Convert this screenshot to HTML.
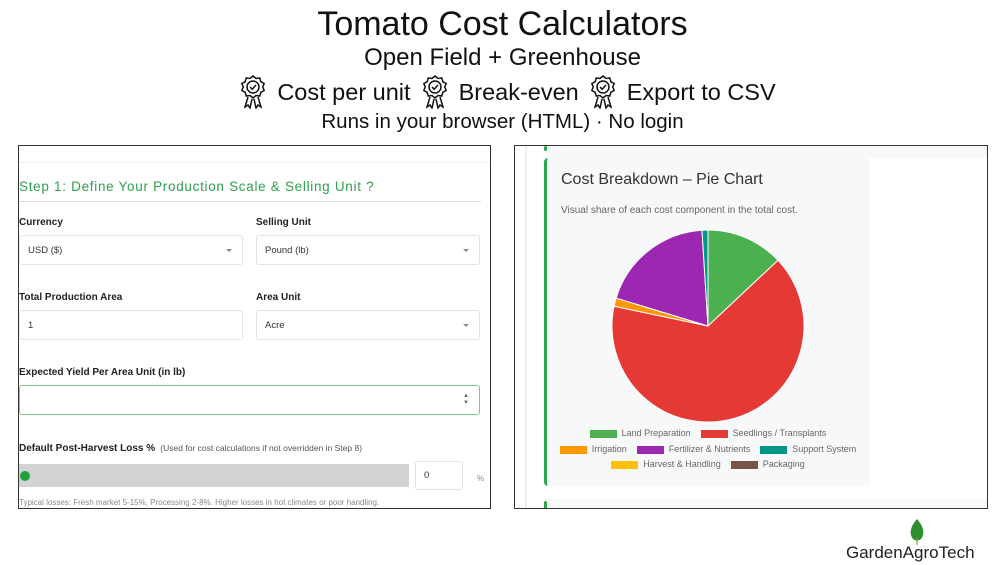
<!DOCTYPE html>
<html><head><meta charset="utf-8"><style>
*{box-sizing:border-box;margin:0;padding:0}
body{width:1005px;height:565px;background:#fff;position:relative;overflow:hidden;font-family:"Liberation Sans","DejaVu Sans",sans-serif;color:#111}
.a{position:absolute;white-space:nowrap}
.c{left:0;width:1005px;text-align:center}
.lbl{font-size:10px;color:#222;font-weight:bold}
.box{position:absolute;border:1px solid #e3e3e3;border-radius:3px;background:#fff;font-size:9.5px;color:#333;padding-left:8px;display:flex;align-items:center}
.caret{position:absolute right:10px;top:13px;width:0;height:0;border-left:3px solid transparent;border-right:3px solid transparent;border-top:3px solid #888}
.caret{position:absolute;right:10px}
.leg{position:absolute;font-size:9px;color:#666;white-space:nowrap}
.sw{position:absolute;width:27px;height:8px}
.ic{display:block;margin:0 12px}
.feat{display:flex;justify-content:center;align-items:center;height:36px;line-height:36px}
</style></head><body>
<div class="a c" style="top:5px;font-size:34px;">Tomato Cost Calculators</div>
<div class="a c" style="top:44px;font-size:24px;">Open Field + Greenhouse</div>
<div class="a c feat" style="top:74px;font-size:23.5px;">
<svg class="ic" width="24" height="34" viewBox="0 0 24 34"><g fill="none" stroke="#111" stroke-width="1.5"><path d="M12 1l3 2.5 3.8-.5 1 3.7 3.4 1.8-1.5 3.5 1.5 3.5-3.4 1.8-1 3.7-3.8-.5L12 23l-3-2.5-3.8.5-1-3.7L.8 15.5 2.3 12 .8 8.5l3.4-1.8 1-3.7L9 3.5z"/><circle cx="12" cy="12" r="6"/><path d="M9 12l2.2 2.2L15 10"/><path d="M7 22l-3 10 3-2 2 3 2-9M17 22l3 10-3-2-2 3-2-9"/></g></svg><span>Cost per unit</span><svg class="ic" width="24" height="34" viewBox="0 0 24 34"><g fill="none" stroke="#111" stroke-width="1.5"><path d="M12 1l3 2.5 3.8-.5 1 3.7 3.4 1.8-1.5 3.5 1.5 3.5-3.4 1.8-1 3.7-3.8-.5L12 23l-3-2.5-3.8.5-1-3.7L.8 15.5 2.3 12 .8 8.5l3.4-1.8 1-3.7L9 3.5z"/><circle cx="12" cy="12" r="6"/><path d="M9 12l2.2 2.2L15 10"/><path d="M7 22l-3 10 3-2 2 3 2-9M17 22l3 10-3-2-2 3-2-9"/></g></svg><span>Break-even</span><svg class="ic" width="24" height="34" viewBox="0 0 24 34"><g fill="none" stroke="#111" stroke-width="1.5"><path d="M12 1l3 2.5 3.8-.5 1 3.7 3.4 1.8-1.5 3.5 1.5 3.5-3.4 1.8-1 3.7-3.8-.5L12 23l-3-2.5-3.8.5-1-3.7L.8 15.5 2.3 12 .8 8.5l3.4-1.8 1-3.7L9 3.5z"/><circle cx="12" cy="12" r="6"/><path d="M9 12l2.2 2.2L15 10"/><path d="M7 22l-3 10 3-2 2 3 2-9M17 22l3 10-3-2-2 3-2-9"/></g></svg><span>Export to CSV</span></div>
<div class="a c" style="top:110px;font-size:20.5px;">Runs in your browser (HTML) · No login</div>

<!-- Left panel -->
<div class="a" style="left:18px;top:145px;width:473px;height:364px;border:1px solid #333;overflow:hidden;background:#fff">
 <div class="a" style="left:0;top:16px;width:473px;height:1px;background:#eee"></div>
 <div class="a" style="left:0;top:33px;font-size:13.5px;color:#2e9e4f;letter-spacing:0.7px">Step 1: Define Your Production Scale &amp; Selling Unit ?</div>
 <div class="a" style="left:0;top:55px;width:462px;height:1px;background:#ddd"></div>
 <div class="a lbl" style="left:0;top:71px">Currency</div>
 <div class="a lbl" style="left:237px;top:71px">Selling Unit</div>
 <div class="box" style="left:0;top:89px;width:224px;height:30px">USD ($)<span class="caret" style="top:13px;width:0;height:0;border-left:3px solid transparent;border-right:3px solid transparent;border-top:3px solid #888"></span></div>
 <div class="box" style="left:237px;top:89px;width:224px;height:30px">Pound (lb)<span class="caret" style="top:13px;width:0;height:0;border-left:3px solid transparent;border-right:3px solid transparent;border-top:3px solid #888"></span></div>
 <div class="a lbl" style="left:0;top:146px">Total Production Area</div>
 <div class="a lbl" style="left:237px;top:146px">Area Unit</div>
 <div class="box" style="left:0;top:164px;width:224px;height:30px">1</div>
 <div class="box" style="left:237px;top:164px;width:224px;height:30px">Acre<span class="caret" style="top:13px;width:0;height:0;border-left:3px solid transparent;border-right:3px solid transparent;border-top:3px solid #888"></span></div>
 <div class="a lbl" style="left:0;top:221px">Expected Yield Per Area Unit (in lb)</div>
 <div class="box" style="left:0;top:239px;width:461px;height:30px;border-color:#7cc98e"><span style="position:absolute;right:10px;top:7px;font-size:6px;color:#666;line-height:7px">▲<br>▼</span></div>
 <div class="a lbl" style="left:0;top:297px">Default Post-Harvest Loss % <span style="font-weight:normal;font-size:8.5px;color:#555">&nbsp;(Used for cost calculations if not overridden in Step 8)</span></div>
 <div class="a" style="left:0;top:318px;width:390px;height:23px;background:#d3d3d3"></div>
 <div class="a" style="left:1px;top:325px;width:10px;height:10px;border-radius:50%;background:#22a03c"></div>
 <div class="box" style="left:396px;top:315px;width:48px;height:29px">0</div>
 <div class="a" style="left:458px;top:328px;font-size:8px;color:#888">%</div>
 <div class="a" style="left:0;top:352px;font-size:8px;color:#888">Typical losses: Fresh market 5-15%, Processing 2-8%. Higher losses in hot climates or poor handling.</div>
</div>

<!-- Right panel -->
<div class="a" style="left:514px;top:145px;width:474px;height:364px;border:1px solid #333;overflow:hidden;background:#fff">
 <div class="a" style="left:10px;top:0;width:2px;height:364px;background:#eee"></div>
 <div class="a" style="left:30px;top:0;width:444px;height:12px;background:#f7f8fa"></div>
 <div class="a" style="left:30px;top:353px;width:444px;height:12px;background:#f7f8fa"></div>
 <div class="a" style="left:29px;top:0;width:3px;height:5px;background:#2aa84a;border-radius:2px"></div>
 <div class="a" style="left:29px;top:355px;width:3px;height:12px;background:#2aa84a;border-radius:2px"></div>
 <div class="a" style="left:29px;top:12px;width:326px;height:328px;background:#f7f8fa;border-left:3px solid #2aa84a;border-radius:4px">
  <div class="a" style="left:14px;top:13px;font-size:16px;color:#333">Cost Breakdown – Pie Chart</div>
  <div class="a" style="left:14px;top:47px;font-size:10px;color:#666">Visual share of each cost component in the total cost.</div>
 </div>
</div>
<svg id="pie" class="a" style="left:0;top:0" width="1005" height="565"></svg>
<div id="legend"></div>

<!-- Logo -->
<svg class="a" style="left:907px;top:518px" width="20" height="28">
 <path d="M10 1 C3 9 2 16 6 21 C8 23 12 23 14 21 C18 16 17 9 10 1Z" fill="#2f8f2f"/>
 <line x1="10" y1="20" x2="10" y2="27" stroke="#7a9a3a" stroke-width="1.2"/>
</svg>
<div class="a" style="left:846px;top:543px;font-size:17px;color:#222">GardenAgroTech</div>

<script>
const categories=["Land Preparation","Seedlings / Transplants","Irrigation","Fertilizer & Nutrients","Support System","Harvest & Handling","Packaging"];
const values=[13.0,65.3,1.4,19.3,1.0,0,0];
const colors=["#4caf50","#e53935","#ff9800","#9c27b0","#009688","#ffc107","#795548"];
const svg=document.getElementById('pie');
const NS="http://www.w3.org/2000/svg";
const cx=708,cy=326,r=96;
const total=values.reduce((a,b)=>a+b,0);
function angle(v){return v/total*2*Math.PI;}
let a0=0;
values.forEach((v,i)=>{
  if(v<=0)return;
  const a1=a0+angle(v);
  const x0=cx+r*Math.sin(a0),y0=cy-r*Math.cos(a0),x1=cx+r*Math.sin(a1),y1=cy-r*Math.cos(a1);
  const p=document.createElementNS(NS,'path');
  p.setAttribute('d',`M${cx},${cy}L${x0},${y0}A${r},${r} 0 ${a1-a0>Math.PI?1:0} 1 ${x1},${y1}Z`);
  p.setAttribute('fill',colors[i]);p.setAttribute('stroke','#fff');p.setAttribute('stroke-width','1');
  
  
  svg.appendChild(p);
  a0=a1;
});
const rows=[[0,1],[2,3,4],[5,6]];
const rowY=[428,444,459];
const leg=document.getElementById('legend');
const meas=document.createElement('canvas').getContext('2d');
meas.font='9px "Liberation Sans", sans-serif';
rows.forEach((row,ri)=>{
  const widths=row.map(i=>32+meas.measureText(categories[i]).width);
  const tot=widths.reduce((a,b)=>a+b,0)+(row.length-1)*10;
  let x=cx-tot/2;
  row.forEach((i,k)=>{
    const item=document.createElement('div');
    
    
    item.className='leg';item.style.left=x+'px';item.style.top=rowY[ri]+'px';item.style.height='11px';item.style.width=widths[k]+'px';
    const sw=document.createElement('div');sw.className='sw';sw.style.background=colors[i];sw.style.left='0';sw.style.top='2px';
    const t=document.createElement('span');t.textContent=categories[i];t.style.position='absolute';t.style.left='32px';t.style.top='0px';
    item.appendChild(sw);item.appendChild(t);leg.appendChild(item);
    x+=widths[k]+10;
  });
});
</script>
</body></html>
